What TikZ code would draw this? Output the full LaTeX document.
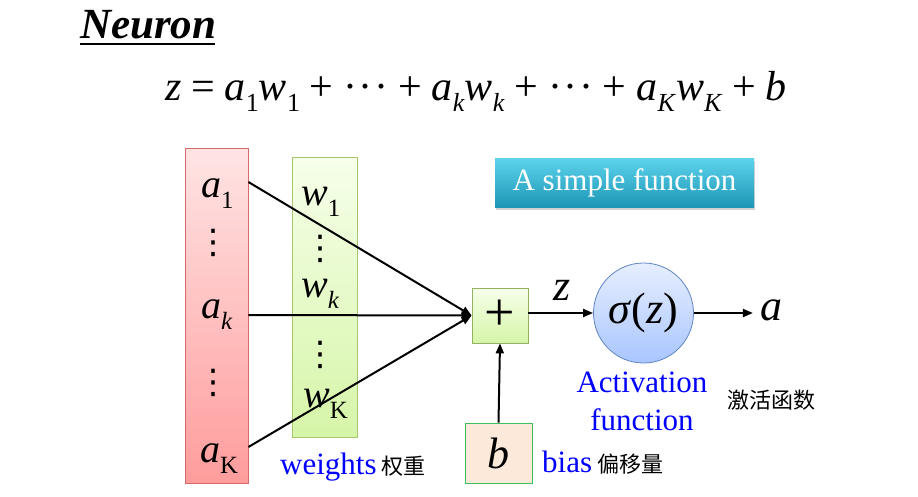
\documentclass[tikz,border=0pt]{standalone}
\usepackage{fontspec}
\setmainfont{Liberation Serif}
\newfontfamily\cjk{Noto Sans CJK SC}
\newfontfamily\symb{DejaVu Sans}
\usepackage{xcolor}
\usepackage{graphicx}
\usetikzlibrary{arrows.meta}
\usetikzlibrary{shadows}

\definecolor{inTop}{HTML}{FFE4E4}
\definecolor{inBot}{HTML}{FF9C9C}
\definecolor{inLine}{HTML}{D86A6A}
\definecolor{wTop}{HTML}{F6FFEA}
\definecolor{wBot}{HTML}{D6F5A8}
\definecolor{wLine}{HTML}{A6C66C}
\definecolor{actTop}{HTML}{E6EEFF}
\definecolor{actBot}{HTML}{A9C6FF}
\definecolor{actLine}{HTML}{5F85C4}
\definecolor{funcTop}{HTML}{5DD3EC}
\definecolor{funcBot}{HTML}{1D97B6}
\definecolor{biasFill}{HTML}{FDE9D9}
\definecolor{biasLine}{HTML}{3DBF5E}

\newcommand\vi[1]{\textit{#1}}
\newcommand\lo[1]{\raisebox{-.28em}{\scalebox{.62}{#1}}}
\newcommand\op[1]{\hspace{.235em}#1\hspace{.235em}}
\newcommand\cdotsbig{\textperiodcentered\kern1.5pt\textperiodcentered\kern1.5pt\textperiodcentered}
\newcommand\vdotsbig{{\symb\fontsize{34}{34}\selectfont ⋮}}

\begin{document}
\begin{tikzpicture}[x=1pt,y=-1pt,
        box/.style={draw, line width=0.8pt, inner sep=0pt},
        lbl/.style={inner sep=0pt, font=\fontsize{40}{40}\selectfont},
        wire/.style={line width=2pt, -{Triangle[length=10pt,width=8pt]}},
        note/.style={inner sep=0pt, text=blue, font=\fontsize{31}{38}\selectfont},
        zh/.style={font=\cjk\fontsize{22}{22}\selectfont, text=black}
      ]
  \useasboundingbox (0,0) rectangle (918,496);

  \node[inner sep=0pt, anchor=base west, font=\fontsize{43}{43}\selectfont\bfseries\itshape]
    (title) at (80,38) {Neuron};
  \draw[line width=2.2pt] (80,44) -- (215,44);
  \node[inner sep=0pt, anchor=base west, font=\fontsize{42}{42}\selectfont] (eq) at (165,100)
    {\vi{z}\op{=}\vi{a}\lo{1}\vi{w}\lo{1}\op{+}\cdotsbig\op{+}\vi{a}\lo{\vi{k}}\vi{w}\lo{\vi{k}}\op{+}\cdotsbig\op{+}\vi{a}\lo{\vi{K}}\vi{w}\lo{\vi{K}}\op{+}\vi{b}};

  % inputs and weights
  \node[box, draw=inLine, top color=inTop, bottom color=inBot,
        minimum width=63pt, minimum height=335pt] (inbox) at (216.5,315.5) {};
  \node[box, draw=wLine, top color=wTop, bottom color=wBot,
        minimum width=65pt, minimum height=280pt] (wbox) at (324.5,297) {};

  \node[lbl, anchor=base west] (a1) at (201,197) {\vi{a}\lo{1}};
  \node[lbl] (d1) at (213,243) {\vdotsbig};
  \node[lbl, anchor=base west] (ak) at (201,318) {\vi{a}\lo{\vi{k}}};
  \node[lbl] (d2) at (213,383) {\vdotsbig};
  \node[lbl, anchor=base west] (aK) at (200,462) {\vi{a}\lo{K}};

  \node[lbl, anchor=base west] (w1) at (301,205) {\vi{w}\lo{1}};
  \node[lbl] (d3) at (320,249) {\vdotsbig};
  \node[lbl, anchor=base west] (wk) at (301,297) {\vi{w}\lo{\vi{k}}};
  \node[lbl] (d4) at (320,355) {\vdotsbig};
  \node[lbl, anchor=base west] (wK) at (303,407) {\vi{w}\lo{K}};

  % sum, activation
  \node[box, draw=wLine!90!black, top color=wTop, bottom color=wBot,
        minimum width=56pt, minimum height=55pt, font=\fontsize{54}{54}\selectfont] (sum) at (500,315.5) {+};
  \node[box, circle, draw=actLine, top color=actTop, bottom color=actBot,
        minimum size=100pt, font=\fontsize{44}{44}\selectfont] (act) at (643.5,313) {\vi{σ}(\vi{z})};
  \node[box, draw=biasLine, fill=biasFill, minimum width=67pt, minimum height=60pt,
        font=\fontsize{44}{44}\selectfont] (bias) at (498.5,453) {\vi{b}};
  \node[lbl, font=\fontsize{44}{44}\selectfont] (zlbl) at (562,290) {\vi{z}};
  \node[lbl, anchor=west, font=\fontsize{44}{44}\selectfont] (out) at (760,310) {\vi{a}};

  \node[inner sep=0pt, top color=funcTop, bottom color=funcBot,
        drop shadow={shadow xshift=1pt, shadow yshift=-2.5pt, opacity=0.35},
        minimum width=259pt, minimum height=49pt, text=white,
        font=\fontsize{31}{31}\selectfont] (func) at (624.5,182.5) {A simple function};

  \foreach \y in {182,315,447}
    \draw[wire] (inbox.east |- 0,\y) -- (sum.west);
  \draw[wire] (bias.north) -- (sum.south);
  \draw[wire] (sum.east |- act) -- (act.west);
  \draw[wire] (act.east) -- ++(59,0) coordinate (outend);

  % labels
  \node[note, align=center] (actlbl) at (642,401) {Activation\\function};
  \node[zh, anchor=west, inner sep=0pt] (actzh) at (727,400) {激活函数};
  \node[note, anchor=base west] (wlbl) at (280,474) {weights\,{\cjk\fontsize{22}{22}\selectfont\color{black}权重}};
  \node[note, anchor=base west] (blbl) at (542,472) {bias\,{\cjk\fontsize{22}{22}\selectfont\color{black}偏移量}};
\end{tikzpicture}
\end{document}
